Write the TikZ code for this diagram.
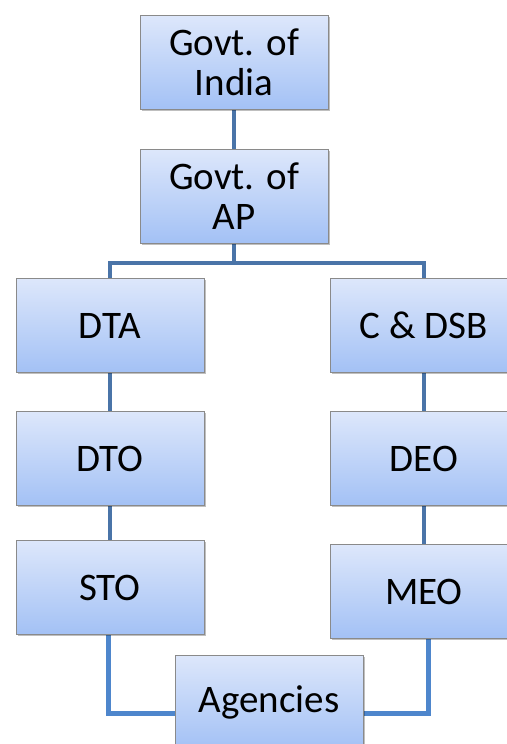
\documentclass[tikz,border=0pt]{standalone}
\usepackage{fontspec}
\setmainfont{Carlito}
\usetikzlibrary{shadows,backgrounds}
\definecolor{boxtop}{HTML}{DDE7FB}
\definecolor{boxbot}{HTML}{A3C1F5}
\definecolor{boxline}{HTML}{8A8A8A}
\definecolor{darkcon}{HTML}{4A74A8}
\definecolor{lightcon}{HTML}{4E86CC}
\begin{document}
\begin{tikzpicture}[x=1pt,y=1pt,
  orgbox/.style={draw=boxline, line width=1pt, top color=boxtop, bottom color=boxbot,
    minimum width=188pt, minimum height=94pt, inner sep=0pt, align=center,
    font=\fontsize{39}{40}\selectfont,
    drop shadow={shadow xshift=1.5pt, shadow yshift=-1.5pt, fill=black, opacity=.25}},
  topcon/.style={draw=darkcon, line width=4.5pt},
  botcon/.style={draw=lightcon, line width=5pt}]
\useasboundingbox (0,0) rectangle (506,-744);
\node[orgbox] (india) at (234,-62.5) {Govt. of\\India};
\node[orgbox] (ap) at (234,-196) {Govt. of\\AP};
\node[orgbox] (dta) at (110,-325.5) {DTA};
\node[orgbox] (dto) at (110,-458.5) {DTO};
\node[orgbox] (sto) at (110,-587.5) {STO};
\node[orgbox] (cdsb) at (424,-325.5) {C \& DSB};
\node[orgbox] (deo) at (424,-458.5) {DEO};
\node[orgbox] (meo) at (424,-591.5) {MEO};
\node[orgbox] (ag) at (269,-702) {Agencies};
\coordinate (split) at (234,-263);
\coordinate (agl) at (175,-713);
\coordinate (agr) at (363,-713);
\begin{scope}[on background layer]
  \draw[topcon] (india.south) -- (ap.north);
  \draw[topcon] (ap.south) -- (split);
  \draw[topcon] (dta.north) |- (split) -| (cdsb.north);
  \draw[topcon] (dta.south) -- (dto.north);
  \draw[topcon] (dto.south) -- (sto.north);
  \draw[topcon] (cdsb.south) -- (deo.north);
  \draw[topcon] (deo.south) -- (meo.north);
  \draw[botcon] ([xshift=-2pt]sto.south) |- (agl);
  \draw[botcon] ([xshift=4pt]meo.south) |- (agr);
\end{scope}
\end{tikzpicture}
\end{document}
